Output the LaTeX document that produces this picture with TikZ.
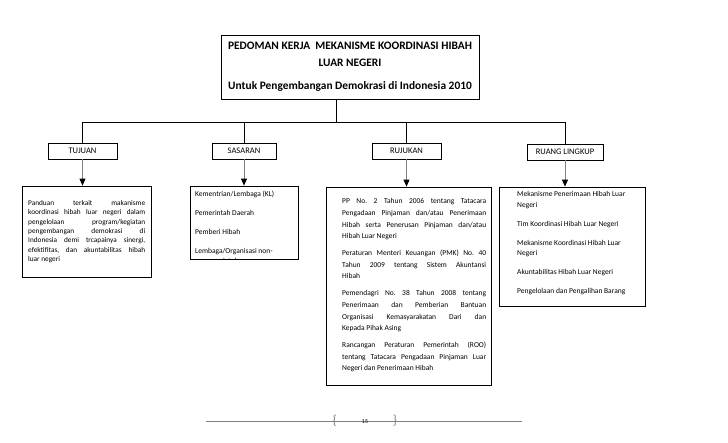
\documentclass[tikz,border=0pt]{standalone}
\usepackage{fontspec}
\setmainfont{Carlito}
\frenchspacing
\usetikzlibrary{arrows,arrows.meta,positioning,calc}
\tikzset{
judul/.style = {draw, fill=white, rectangle, align=center, line width=0.8pt, font=\bfseries\fontsize{11.4}{17}\selectfont, minimum width=258pt, minimum height=64pt, inner sep=0pt},
kepala/.style = {draw, fill=white, rectangle, align=center, line width=0.8pt, font=\fontsize{8.5}{10}\selectfont, minimum height=16pt, inner sep=0pt},
kotak/.style = {draw, rectangle, line width=0.8pt, inner sep=0pt},
isi/.style = {align=justify, inner sep=0pt, anchor=north west},
garis/.style = {line width=0.8pt},
panah/.style = {draw=gray, line width=0.8pt, -{Triangle[black, width=6pt, length=7pt]}},
}

\begin{document}
\begin{tikzpicture}[x=1pt, y=-1pt, >=latex']
\useasboundingbox (0,0) rectangle (728,442);
% judul
\node [judul] (judul) at (350,67) {PEDOMAN KERJA\ \ MEKANISME KOORDINASI HIBAH\\LUAR NEGERI\\[6pt]Untuk Pengembangan Demokrasi di Indonesia 2010};
% kepala
\node [kepala, minimum width=69pt] (tujuan) at (82.5,151) {TUJUAN};
\node [kepala, minimum width=64pt] (sasaran) at (244,151) {SASARAN};
\node [kepala, minimum width=69pt] (rujukan) at (406.5,151) {RUJUKAN};
\node [kepala, minimum width=76pt] (ruang) at (565,152) {RUANG LINGKUP};
\coordinate (cabang) at (336,122);
\draw [garis] (judul.south -| cabang) -- (cabang);
\draw [garis] (tujuan.north |- cabang) -- (ruang.north |- cabang);
\foreach \n in {tujuan,sasaran,rujukan,ruang}
  \draw [garis] (\n.north |- cabang) -- (\n.north);
% kotak isi
\node [kotak, minimum width=129pt, minimum height=91pt] (isiTujuan) at (86.5,231.5) {};
\node [kotak, minimum width=108pt, minimum height=73pt] (isiSasaran) at (244,222.5) {};
\node [kotak, minimum width=165pt, minimum height=198pt] (isiRujukan) at (408.5,286) {};
\node [kotak, minimum width=146pt, minimum height=119pt] (isiRuang) at (572,246.5) {};
\foreach \a/\b in {tujuan/isiTujuan,sasaran/isiSasaran,rujukan/isiRujukan,ruang/isiRuang}
  \draw [panah] (\a.south) -- (\a.south |- \b.north);
% teks
\node [isi, text width=117pt, font=\fontsize{7.3}{9.4}\selectfont] (teksTujuan) at (28,200)
  {Panduan terkait makanisme\linebreak koordinasi hibah luar negeri dalam\linebreak pengelolaan program/kegiatan\linebreak pengembangan demokrasi di\linebreak Indonesia demi trcapainya sinergi,\linebreak efektifitas, dan akuntabilitas hibah\linebreak luar negeri};
\begin{scope}
\clip (isiSasaran.north west) rectangle (isiSasaran.south east);
\node [isi, align=left, font=\fontsize{7.5}{9}\selectfont] (teksSasaran) at (195,190.5)
  {Kementrian/Lembaga (KL)\\[10pt]Pemerintah Daerah\\[10pt]Pemberi Hibah\\[10pt]Lembaga/Organisasi non-\\[1.5pt]\hspace*{8pt}pemerintah};
\end{scope}
\node [isi, text width=144pt, font=\fontsize{7.5}{11.6}\selectfont] (teksRujukan) at (342,198.5)
  {PP No. 2 Tahun 2006 tentang Tatacara\linebreak Pengadaan Pinjaman dan/atau Penerimaan\linebreak Hibah serta Penerusan Pinjaman dan/atau\linebreak Hibah Luar Negeri\\[5.4pt]
   Peraturan Menteri Keuangan (PMK) No. 40\linebreak Tahun 2009 tentang Sistem Akuntansi\linebreak Hibah\\[5.4pt]
   Pemendagri No. 38 Tahun 2008 tentang\linebreak Penerimaan dan Pemberian Bantuan\linebreak Organisasi Kemasyarakatan Dari dan\linebreak Kepada Pihak Asing\\[5.4pt]
   Rancangan Peraturan Pemerintah (ROO)\linebreak tentang Tatacara Pengadaan Pinjaman Luar\linebreak Negeri dan Penerimaan Hibah};
\node [isi, align=left, font=\fontsize{7.5}{10.5}\selectfont] (teksRuang) at (517,191.5)
  {Mekanisme Penerimaan Hibah Luar\\Negeri\\[8.5pt]Tim Koordinasi Hibah Luar Negeri\\[8.5pt]Mekanisme Koordinasi Hibah Luar\\Negeri\\[8.5pt]Akuntabilitas Hibah Luar Negeri\\[8.5pt]Pengelolaan dan Pengalihan Barang};
% kaki halaman
\coordinate (kakiKiri) at (206,421);
\coordinate (kakiKanan) at (522,421);
\draw [gray, line width=0.7pt] (kakiKiri) -- (kakiKanan);
\node [text=gray, font=\fontsize{13}{13}\selectfont, inner sep=0pt] (kurungKiri) at (335,421) {\{};
\node [text=gray, font=\fontsize{13}{13}\selectfont, inner sep=0pt] (kurungKanan) at (395,421) {\}};
\node [font=\fontsize{6}{6}\selectfont, inner sep=0pt] (halaman) at (365,422) {15};
\end{tikzpicture}
\end{document}
